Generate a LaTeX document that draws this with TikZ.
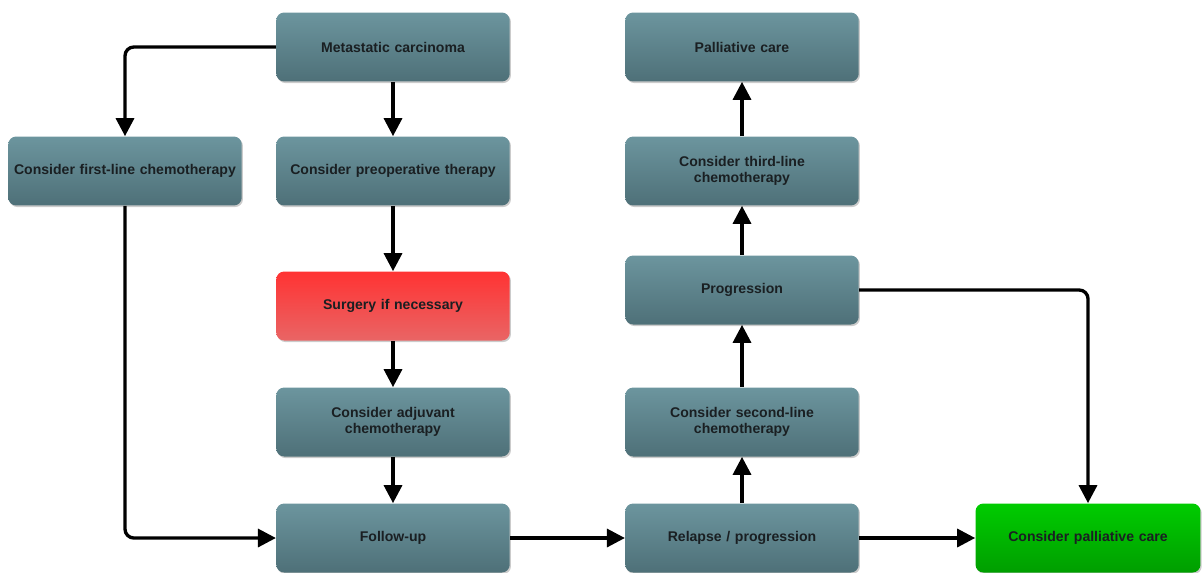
\documentclass[tikz,border=0pt]{standalone}
\usepackage{fontspec}
\setmainfont{Liberation Sans}
\usepackage{tikz}
\usetikzlibrary{arrows.meta,positioning,calc,shadows}
\definecolor{boxtop}{HTML}{6C959E}
\definecolor{boxbot}{HTML}{4E7078}
\definecolor{redtop}{HTML}{FF3333}
\definecolor{redbot}{HTML}{E96565}
\definecolor{greentop}{HTML}{00CC00}
\definecolor{greenbot}{HTML}{009E00}
\definecolor{text}{HTML}{1A1F22}
\tikzset{
  block/.style={draw=none, top color=boxtop, bottom color=boxbot, rounded corners=4.5pt,
                minimum width=4.66cm, minimum height=1.38cm, align=center, inner sep=1pt,
                text width=4.6cm, font=\fontsize{8}{9.4}\selectfont\bfseries, text=text,
                drop shadow={shadow xshift=0.7pt, shadow yshift=-0.9pt, fill=black!45, opacity=0.45}},
  redblock/.style={block, top color=redtop, bottom color=redbot},
  greenblock/.style={block, top color=greentop, bottom color=greenbot},
  arrow/.style={-{Triangle[length=0.36cm,width=0.36cm]}, line width=1.9pt, draw=black,
                rounded corners=5pt}
}
\begin{document}
\begin{tikzpicture}[x=0.02cm,y=-0.02cm]
  \useasboundingbox (0,0) rectangle (1203,572);
  % left / middle column
  \node[block] (meta)    at (393,47)  {Metastatic carcinoma};
  \node[block] (first)   at (125,171) {Consider first-line chemotherapy};
  \node[block] (preop)   at (393,171) {Consider preoperative therapy};
  \node[redblock] (surg) at (393,306) {Surgery if necessary};
  \node[block] (adjuv)   at (393,422) {Consider adjuvant\\chemotherapy};
  \node[block] (follow)  at (393,538) {Follow-up};
  % right column
  \node[block] (relapse) at (742,538) {Relapse / progression};
  \node[block] (second)  at (742,422) {Consider second-line\\chemotherapy};
  \node[block] (prog)    at (742,290) {Progression};
  \node[block] (third)   at (742,171) {Consider third-line\\chemotherapy};
  \node[block] (pall)    at (742,47)  {Palliative care};
  \node[greenblock,minimum width=4.5cm,text width=4.4cm] (cpc) at (1088,538) {Consider palliative care};
  % connectors
  \draw[arrow] (meta.west) -| (first.north);
  \draw[arrow] (meta) -- (preop);
  \draw[arrow] (first.south) |- (follow.west);
  \draw[arrow] (preop) -- (surg);
  \draw[arrow] (surg) -- (adjuv);
  \draw[arrow] (adjuv) -- (follow);
  \draw[arrow] (follow) -- (relapse);
  \draw[arrow] (relapse) -- (cpc);
  \draw[arrow] (relapse) -- (second);
  \draw[arrow] (second) -- (prog);
  \draw[arrow] (prog) -- (third);
  \draw[arrow] (third) -- (pall);
  \draw[arrow] (prog.east) -| (cpc.north);
\end{tikzpicture}
\end{document}
